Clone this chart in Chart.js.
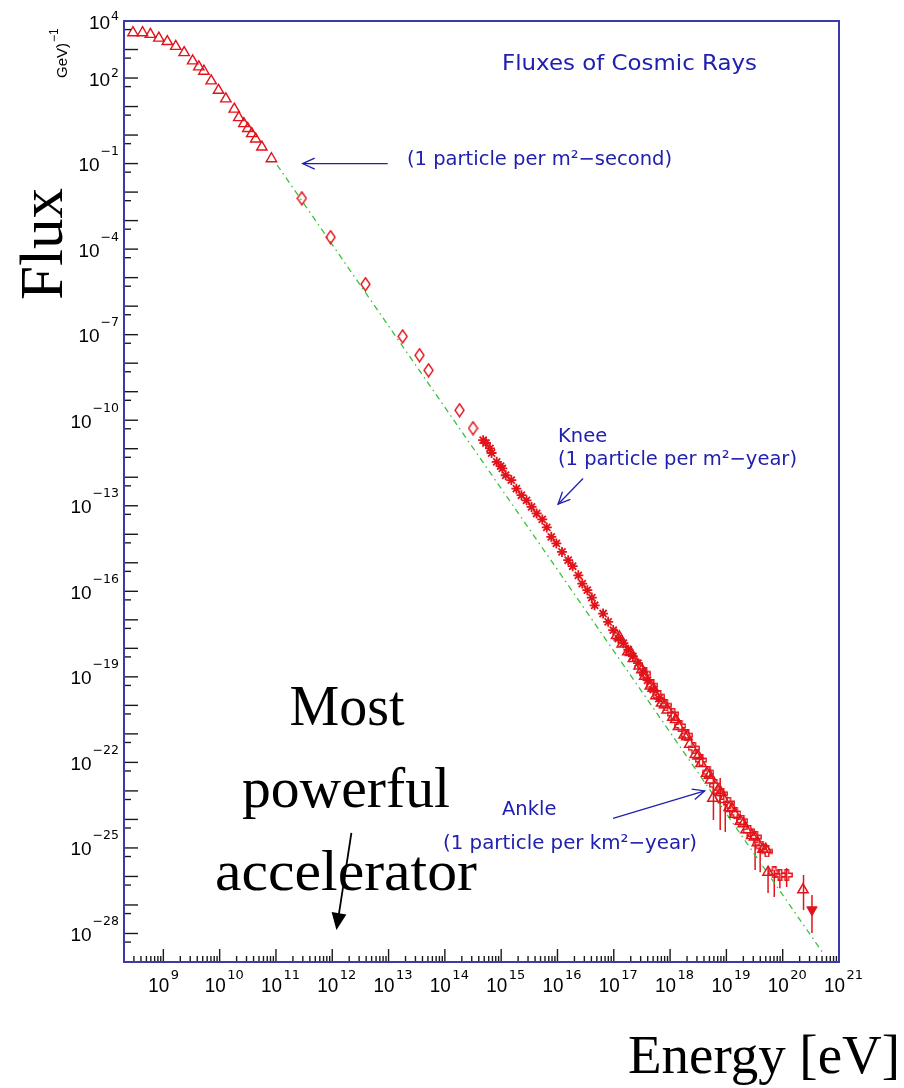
<!DOCTYPE html>
<html>
<head>
<meta charset="utf-8">
<script src="https://cdn.jsdelivr.net/npm/chart.js@4/dist/chart.umd.min.js"></script>
<style>
  html, body { margin: 0; padding: 0; background: #ffffff; }
  #c { display: block; }
</style>
</head>
<body>
<canvas id="c" width="904" height="1088"></canvas>
<script>
// ---- Cosmic-ray flux measurements (log10 of energy in eV, log10 of flux) ----

// low-energy direct measurements (open triangles)
const lowTriLogE = [8.46, 8.63, 8.77, 8.92, 9.07, 9.22, 9.37, 9.52, 9.63, 9.72, 9.85, 9.98, 10.11, 10.26, 10.34, 10.43, 10.50, 10.57, 10.64, 10.75, 10.92];
const lowTriLogF = [3.59, 3.59, 3.53, 3.40, 3.28, 3.11, 2.89, 2.60, 2.39, 2.24, 1.90, 1.57, 1.27, 0.91, 0.61, 0.40, 0.23, 0.05, -0.14, -0.42, -0.83];

// balloon / satellite points (open diamonds)
const diaLogE = [11.46, 11.97, 12.59, 13.25, 13.55, 13.71, 14.26, 14.50];
const diaLogF = [-2.22, -3.58, -5.23, -7.06, -7.72, -8.25, -9.65, -10.28];

// air-shower arrays around the knee (asterisks)
const starLogE = [14.68, 14.73, 14.80, 14.83, 14.92, 14.99, 15.02, 15.08, 15.18, 15.27, 15.36, 15.45, 15.54, 15.63, 15.73, 15.81, 15.89, 15.98, 16.08, 16.19, 16.27, 16.37, 16.44, 16.53, 16.61, 16.66, 16.81, 16.90, 16.99, 17.08, 17.17, 17.26, 17.34, 17.43, 17.52, 17.60, 17.70, 17.80];
const starLogF = [-10.70, -10.80, -10.99, -11.15, -11.46, -11.61, -11.69, -11.93, -12.10, -12.40, -12.63, -12.81, -13.04, -13.27, -13.48, -13.76, -14.09, -14.32, -14.62, -14.91, -15.12, -15.44, -15.73, -15.96, -16.22, -16.49, -16.78, -17.07, -17.36, -17.66, -17.82, -18.05, -18.28, -18.52, -18.84, -19.12, -19.45, -19.76];

// ultra-high-energy points, first array (open triangles)
const hiTriLogE = [17.05, 17.15, 17.25, 17.35, 17.45, 17.55, 17.65, 17.75, 17.85, 17.95, 18.05, 18.15, 18.25, 18.35, 18.45, 18.55, 18.65, 18.72, 18.76, 18.85, 18.95, 19.05, 19.15, 19.25, 19.35, 19.45, 19.55, 19.65, 19.74, 20.36];
const hiTriLogF = [-17.55, -17.85, -18.12, -18.36, -18.62, -18.98, -19.32, -19.66, -19.92, -20.16, -20.42, -20.74, -21.04, -21.36, -21.72, -22.04, -22.38, -22.62, -23.26, -22.98, -23.30, -23.58, -23.82, -24.06, -24.36, -24.56, -24.82, -25.05, -25.85, -26.47];

// ultra-high-energy points, second array (open triangles)
const hiTri2LogE = [17.10, 17.30, 17.50, 17.70, 17.90, 18.10, 18.30, 18.50, 18.70, 18.90, 19.10, 19.30, 19.50, 19.70];
const hiTri2LogF = [-17.60, -18.15, -18.75, -19.40, -19.98, -20.50, -21.10, -21.78, -22.45, -23.05, -23.62, -24.15, -24.62, -25.05];

// ultra-high-energy points (open crosses)
const crossLogE = [17.55, 17.68, 17.80, 17.92, 18.05, 18.18, 18.30, 18.42, 18.55, 18.68, 18.80, 18.92, 19.04, 19.16, 19.28, 19.40, 19.52, 19.62, 19.72, 19.85, 19.95, 20.07];
const crossLogF = [-18.88, -19.30, -19.68, -20.00, -20.30, -20.72, -21.05, -21.50, -21.92, -22.35, -22.80, -23.10, -23.42, -23.78, -24.05, -24.40, -24.62, -24.95, -25.12, -25.86, -25.95, -25.95];

// highest-energy point (filled, pointing down)
const topLogE = [20.52];
const topLogF = [-27.17];

// vertical error bars: log10 E, log10 flux low, log10 flux high
const errLogE  = [18.77, 18.89, 18.98, 19.51, 19.60, 19.74, 19.85, 19.95, 20.07, 20.37, 20.52];
const errLogLo = [-24.02, -24.37, -24.44, -25.77, -25.85, -26.58, -26.72, -26.41, -26.37, -27.18, -27.98];
const errLogHi = [-22.72, -22.55, -23.42, -24.83, -24.97, -25.67, -25.77, -25.88, -25.70, -25.95, -26.65];

// power-law reference line
const fitLogE = [11.02, 20.72];
const fitLogF = [-1.05, -28.70];

// axis tick labels (exponents of ten)
const xTickExp = [9, 10, 11, 12, 13, 14, 15, 16, 17, 18, 19, 20, 21];
const yTickExp = [4, 2, -1, -4, -7, -10, -13, -16, -19, -22, -25, -28];

// axis ranges
const xMin = 2e8, xMax = 1e21;
const yMin = 1e-29, yMax = 1e4;

// ---- styling ----
const RED = '#e2131a';
const BLUE = '#2020b0';
const FRAME = '#3a3aac';
const GREEN = '#3cbf3c';

const toPts = (le, lf) => le.map((v, i) => ({ x: Math.pow(10, v), y: Math.pow(10, lf[i]) }));

function diamondImg() {
  const c = document.createElement('canvas');
  c.width = 11; c.height = 15;
  const g = c.getContext('2d');
  g.strokeStyle = RED; g.lineWidth = 1.4;
  g.beginPath();
  g.moveTo(5.5, 1); g.lineTo(10, 7.5); g.lineTo(5.5, 14); g.lineTo(1, 7.5);
  g.closePath(); g.stroke();
  return c;
}
function openCrossImg() {
  const c = document.createElement('canvas');
  c.width = 12; c.height = 12;
  const g = c.getContext('2d');
  g.strokeStyle = RED; g.lineWidth = 1.4;
  const p = [[4.2,0.8],[7.8,0.8],[7.8,4.2],[11.2,4.2],[11.2,7.8],[7.8,7.8],[7.8,11.2],[4.2,11.2],[4.2,7.8],[0.8,7.8],[0.8,4.2],[4.2,4.2]];
  g.beginPath();
  p.forEach((q, i) => i ? g.lineTo(q[0], q[1]) : g.moveTo(q[0], q[1]));
  g.closePath(); g.stroke();
  return c;
}

function drawArrow(ctx, x1, y1, x2, y2, opts) {
  const a = Math.atan2(y2 - y1, x2 - x1);
  const L = opts.len, W = opts.half;
  ctx.save();
  ctx.strokeStyle = opts.color; ctx.fillStyle = opts.color; ctx.lineWidth = opts.lw;
  ctx.beginPath(); ctx.moveTo(x1, y1);
  ctx.lineTo(opts.filled ? x2 - Math.cos(a) * L * 0.8 : x2, opts.filled ? y2 - Math.sin(a) * L * 0.8 : y2);
  ctx.stroke();
  const bx = x2 - Math.cos(a) * L, by = y2 - Math.sin(a) * L;
  const nx = -Math.sin(a) * W, ny = Math.cos(a) * W;
  ctx.beginPath();
  if (opts.filled) {
    ctx.moveTo(x2, y2); ctx.lineTo(bx + nx, by + ny); ctx.lineTo(bx - nx, by - ny); ctx.closePath(); ctx.fill();
  } else {
    ctx.moveTo(bx + nx, by + ny); ctx.lineTo(x2, y2); ctx.lineTo(bx - nx, by - ny); ctx.stroke();
  }
  ctx.restore();
}

// text fitted to a given width with horizontal scaling
function fitText(ctx, txt, x, y, w, align) {
  const m = ctx.measureText(txt).width;
  const s = w / m;
  ctx.save();
  ctx.translate(x, y);
  ctx.scale(s, 1);
  ctx.textAlign = align || 'left';
  ctx.fillText(txt, 0, 0);
  ctx.restore();
}

const decor = {
  id: 'decor',
  beforeDatasetsDraw(chart) {
    const ctx = chart.ctx, xs = chart.scales.x, ys = chart.scales.y;
    ctx.save();
    ctx.strokeStyle = RED; ctx.lineWidth = 1.5;
    errLogE.forEach((e, i) => {
      const x = xs.getPixelForValue(Math.pow(10, e));
      ctx.beginPath();
      ctx.moveTo(x, ys.getPixelForValue(Math.pow(10, errLogLo[i])));
      ctx.lineTo(x, ys.getPixelForValue(Math.pow(10, errLogHi[i])));
      ctx.stroke();
    });
    ctx.restore();
  },
  afterDraw(chart) {
    const ctx = chart.ctx, xs = chart.scales.x, ys = chart.scales.y, a = chart.chartArea;
    ctx.save();

    // y-axis ticks: decades (long) and 5 x 10^n (short), inside the frame
    ctx.strokeStyle = '#1a1a1a'; ctx.lineWidth = 1.4;
    for (let n = -29; n <= 4; n++) {
      const y = ys.getPixelForValue(Math.pow(10, n));
      ctx.beginPath(); ctx.moveTo(a.left, y); ctx.lineTo(a.left + 14, y); ctx.stroke();
      const v5 = 5 * Math.pow(10, n - 1);
      if (v5 > yMin && v5 < yMax) {
        const y5 = ys.getPixelForValue(v5);
        ctx.beginPath(); ctx.moveTo(a.left, y5); ctx.lineTo(a.left + 7, y5); ctx.stroke();
      }
    }
    // x-axis ticks: decades (long), 2..9 x 10^n (short)
    for (let n = 8; n <= 21; n++) {
      for (let k = 1; k <= 9; k++) {
        const v = k * Math.pow(10, n);
        if (v < xMin * 0.999 || v > xMax * 1.001) continue;
        const x = xs.getPixelForValue(v);
        const len = k === 1 ? 13 : 6;
        ctx.beginPath(); ctx.moveTo(x, a.bottom); ctx.lineTo(x, a.bottom - len); ctx.stroke();
      }
    }

    // frame
    ctx.strokeStyle = FRAME; ctx.lineWidth = 2;
    ctx.strokeRect(a.left, a.top, a.right - a.left, a.bottom - a.top);

    // y tick labels
    ctx.fillStyle = '#000';
    ctx.textBaseline = 'alphabetic';
    yTickExp.forEach(n => {
      const y = ys.getPixelForValue(Math.pow(10, n));
      const expStr = n < 0 ? '\u2212' + (-n) : String(n);
      ctx.font = '12.5px "DejaVu Sans"';
      const we = ctx.measureText(expStr).width;
      const right = 119;
      ctx.textAlign = 'left';
      ctx.fillText(expStr, right - we, n < 0 ? y - 8.6 : y - 0.6);
      ctx.font = '19px "Liberation Sans"';
      ctx.textAlign = 'right';
      ctx.fillText('10', right - we - 1, y + 7.5);
    });
    // x tick labels
    xTickExp.forEach(n => {
      const x = xs.getPixelForValue(Math.pow(10, n));
      ctx.font = '21px "Liberation Sans"';
      const left = x - 15;
      fitText(ctx, '10', left, 992, 21, 'left');
      ctx.font = '13px "DejaVu Sans"';
      ctx.textAlign = 'left';
      ctx.fillText(String(n), left + 22.5, 979);
    });

    // axis titles
    ctx.fillStyle = '#000';
    ctx.save();
    ctx.translate(62, 300); ctx.rotate(-Math.PI / 2);
    ctx.font = '62px "Liberation Serif"';
    fitText(ctx, 'Flux', 0, 0, 112, 'left');
    ctx.restore();

    ctx.save();
    ctx.translate(67, 78); ctx.rotate(-Math.PI / 2);
    ctx.font = '15px "Liberation Sans"';
    ctx.textAlign = 'left';
    ctx.fillText('GeV)', 0, 0);
    const wg = ctx.measureText('GeV)').width;
    ctx.font = '12px "Liberation Sans"';
    ctx.fillText('\u22121', wg + 1, -9);
    ctx.restore();

    ctx.font = '55px "Liberation Serif"';
    fitText(ctx, 'Energy [eV]', 628, 1073, 272, 'left');

    // plot annotations
    ctx.fillStyle = BLUE;
    ctx.font = '22px "DejaVu Sans"';
    fitText(ctx, 'Fluxes of Cosmic Rays', 502, 70, 255, 'left');
    ctx.font = '19.5px "DejaVu Sans"';
    fitText(ctx, '(1 particle per m\u00b2\u2212second)', 407, 165, 265, 'left');
    ctx.textAlign = 'left';
    ctx.fillText('Knee', 558, 441.7);
    fitText(ctx, '(1 particle per m\u00b2\u2212year)', 558, 465, 239, 'left');
    ctx.textAlign = 'left';
    ctx.fillText('Ankle', 502, 815);
    fitText(ctx, '(1 particle per km\u00b2\u2212year)', 443, 849, 254, 'left');

    const P = (le, lf) => [xs.getPixelForValue(Math.pow(10, le)), ys.getPixelForValue(Math.pow(10, lf))];
    const ao = { color: BLUE, lw: 1.3, len: 12, half: 5.5, filled: false };
    let p1 = P(12.985, -1.0), p2 = P(11.475, -1.0);
    drawArrow(ctx, p1[0], p1[1], p2[0], p2[1], ao);
    p1 = P(16.454, -12.045); p2 = P(16.010, -12.946);
    drawArrow(ctx, p1[0], p1[1], p2[0], p2[1], ao);
    p1 = P(16.987, -23.966); p2 = P(18.615, -22.998);
    drawArrow(ctx, p1[0], p1[1], p2[0], p2[1], ao);

    // "Most powerful accelerator"
    ctx.fillStyle = '#000';
    ctx.font = '57px "Liberation Serif"';
    fitText(ctx, 'Most', 347, 725, 115, 'center');
    fitText(ctx, 'powerful', 346, 807, 208, 'center');
    fitText(ctx, 'accelerator', 346, 890, 262, 'center');
    p1 = P(12.340, -24.47); p2 = P(12.074, -27.88);
    drawArrow(ctx, p1[0], p1[1], p2[0], p2[1], { color: '#000', lw: 1.8, len: 17, half: 7.5, filled: true });

    ctx.restore();
  }
};

new Chart(document.getElementById('c'), {
  type: 'scatter',
  data: {
    datasets: [
      { type: 'line', data: toPts(fitLogE, fitLogF), showLine: true, borderColor: GREEN, borderWidth: 1.3,
        borderDash: [6, 4, 1.5, 4], pointRadius: 0, fill: false, order: 10 },
      { data: toPts(lowTriLogE, lowTriLogF), pointStyle: 'triangle', pointRadius: 6,
        borderColor: RED, backgroundColor: 'rgba(0,0,0,0)', borderWidth: 1.4, order: 2 },
      { data: toPts(diaLogE, diaLogF), pointStyle: diamondImg(), order: 2 },
      { data: toPts(starLogE, starLogF), pointStyle: 'star', pointRadius: 5,
        borderColor: RED, backgroundColor: RED, borderWidth: 1.8, order: 2 },
      { data: toPts(hiTriLogE, hiTriLogF), pointStyle: 'triangle', pointRadius: 6,
        borderColor: RED, backgroundColor: 'rgba(0,0,0,0)', borderWidth: 1.5, order: 1 },
      { data: toPts(hiTri2LogE, hiTri2LogF), pointStyle: 'triangle', pointRadius: 6,
        borderColor: RED, backgroundColor: 'rgba(0,0,0,0)', borderWidth: 1.5, order: 1 },
      { data: toPts(crossLogE, crossLogF), pointStyle: openCrossImg(), order: 1 },
      { data: toPts(topLogE, topLogF), pointStyle: 'triangle', rotation: 180, pointRadius: 6,
        borderColor: RED, backgroundColor: RED, borderWidth: 1, order: 1 }
    ]
  },
  options: {
    responsive: false,
    animation: false,
    devicePixelRatio: 1,
    layout: { padding: { left: 124, top: 21, right: 65, bottom: 126 } },
    plugins: { legend: { display: false }, tooltip: { enabled: false } },
    scales: {
      x: { type: 'logarithmic', min: xMin, max: xMax, display: false },
      y: { type: 'logarithmic', min: yMin, max: yMax, display: false }
    }
  },
  plugins: [decor]
});
</script>
</body>
</html>
